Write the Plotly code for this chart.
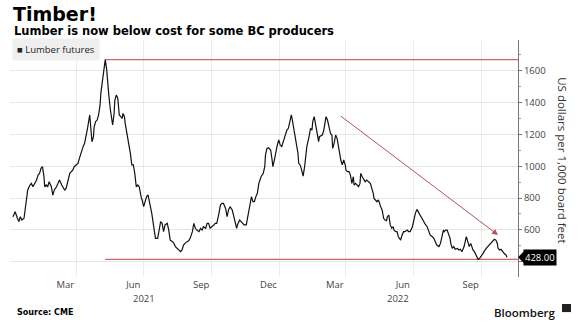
import pandas as pd
import plotly.graph_objects as go

# ---- data ----
start_date = "2021-01-01"
# day offsets from start_date, lumber futures price (USD per 1,000 board feet)
days = [4, 7, 10, 12, 14, 16, 19, 21, 24, 27, 29, 31, 34, 36, 38, 40, 42, 44, 46, 47, 49, 51, 53, 56, 58, 60,
        63, 65, 67, 70, 72, 74, 76, 79, 81, 83, 85, 87, 90, 92, 94, 96, 99, 101, 103, 105, 108, 109, 111, 113,
        114, 116, 118, 120, 122, 123, 125, 127, 129, 131, 132, 134, 136, 138, 139, 141, 142, 144, 146, 147, 148,
        150, 152, 153, 155, 156, 158, 160, 161, 163, 165, 167, 169, 170,
        171, 173, 175, 178, 179, 181, 183, 185, 187, 188, 190, 192, 194, 196, 197, 200, 202, 204, 206, 208, 210,
        213, 215, 217, 220, 222, 224, 226, 229, 231, 233, 235, 238, 240, 242, 244, 247, 249, 251, 253, 256, 258,
        260, 262, 265, 267, 269, 271, 274, 276, 278, 280, 283, 285, 287, 289, 292, 294, 296, 298, 301, 303, 305,
        307, 308, 311, 313, 315, 317, 320, 322, 324, 326, 327, 329, 331, 333, 335, 337, 338, 340, 343, 345,
        346, 348, 350, 353, 355, 356, 358, 360, 362, 364, 366, 368, 371, 373, 375, 377, 379, 381, 382, 384, 386,
        388, 390, 391, 393, 395, 397, 399, 400, 402, 405, 407, 409, 410, 412, 414, 416, 418, 419, 421, 423, 425,
        427, 428, 430, 432, 434, 436, 437, 439, 441, 443, 445, 446, 448, 450, 452, 454, 455, 457, 459, 461, 463,
        465, 466, 468, 470, 472, 474, 475, 477, 479, 481, 483, 484, 486, 488, 490, 492, 493, 495, 497, 499, 501,
        502, 504, 506, 508, 510, 511, 513, 515, 517, 519, 520, 522,
        524, 526, 529, 531, 533, 535, 538, 540, 542, 545, 547, 549, 551, 554, 556, 558, 560, 563, 565, 567, 569,
        572, 574, 576, 578, 581, 583, 585, 587, 588, 590, 592, 594, 596, 597, 599, 601, 603, 606, 608, 610, 612,
        615, 617, 618, 620, 622, 624, 625, 627, 629, 631, 633, 634, 636, 638, 640, 642, 643, 645, 647, 649, 651,
        652, 654, 656, 658, 660, 661, 663, 665, 667, 669, 670, 672, 673]
prices = [683, 714, 673, 652, 683, 662, 673, 746, 851, 882, 892, 871, 892, 913, 945, 955, 987, 997, 934, 871, 882,
          871, 903, 871, 819, 851, 871, 892, 913, 882, 861, 851, 861, 924, 955, 966, 976, 997, 1008, 1018, 1049,
          1081, 1123, 1144, 1186, 1238, 1322, 1248, 1154, 1186, 1248, 1280, 1290, 1322, 1385, 1458, 1531, 1604,
          1670, 1604, 1521, 1437, 1353, 1280, 1259, 1332, 1416, 1447, 1426, 1374, 1322, 1311, 1301, 1332, 1311,
          1269, 1217, 1175, 1133, 1081, 1008, 1008, 955, 871,
          871, 882, 871, 798, 788, 746, 788, 809, 819, 798, 756, 704, 641, 589, 547, 547, 599, 652, 641, 589, 631,
          641, 599, 536, 526, 515, 495, 484, 474, 463, 474, 505, 520, 526, 532, 547, 589, 641, 610, 599, 589, 610,
          599, 620, 610, 641, 641, 610, 620, 631, 641, 641, 704, 756, 767, 767, 735, 683, 725, 746, 725, 683, 641,
          610, 631, 662, 652, 641, 631, 631, 683, 735, 798, 809, 777, 777, 809, 830, 892, 913, 934, 955, 997,
          1070, 1112, 1116, 1102, 1039, 997, 1039, 1102, 1133, 1165, 1133, 1123, 1165, 1207, 1227, 1238, 1280,
          1322, 1301, 1248, 1196, 1144, 1081, 1018, 1008, 976, 938, 997, 1060, 1123, 1186, 1238, 1227, 1280, 1311,
          1259, 1186, 1154, 1186, 1190, 1196, 1227, 1290, 1311, 1290, 1238, 1207, 1196, 1112, 1144, 1196, 1175,
          1123, 1081, 1039, 1008, 1039, 1008, 976, 966, 966, 945, 892, 934, 882, 892, 882, 871, 892, 955, 934,
          913, 903, 913, 909, 903, 892, 861, 830, 798, 788, 777, 788, 756, 746, 725, 673, 662, 658, 683, 693, 631,
          610, 620, 599, 590,
          589, 557, 536, 568, 589, 589, 599, 589, 589, 620, 673, 704, 729, 704, 683, 673, 652, 631, 620, 589, 568,
          557, 547, 526, 505, 495, 515, 557, 599, 589, 599, 599, 578, 547, 515, 484, 495, 478, 484, 474, 478, 463,
          495, 526, 557, 526, 495, 515, 495, 474, 463, 442, 421, 415, 421, 432, 448, 463, 474, 484, 495, 505, 515,
          526, 532, 541, 536, 515, 484, 474, 478, 463, 453, 448, 442, 428]

series_name = "Lumber futures"
last_value = 428.00
peak_level = 1670     # upper red reference line
floor_level = 415     # lower red reference line
peak_day = 129
trend_start = ("2022-03-23", 1322)
trend_end = ("2022-10-24", 568)

x_range = ["2021-01-01", "2022-11-20"]
y_range = [304, 1793]
grid_dates = ["2021-04-01", "2021-07-01", "2021-10-01", "2022-01-01", "2022-04-01", "2022-07-01", "2022-10-01"]
month_dates = ["2021-03-17", "2021-06-17", "2021-09-17", "2021-12-17", "2022-03-17", "2022-06-17", "2022-09-17"]
month_labels = ["Mar", "Jun", "Sep", "Dec", "Mar", "Jun", "Sep"]
year_dates = ["2021-07-02", "2022-06-11"]
year_labels = ["2021", "2022"]
y_ticks = [400, 600, 800, 1000, 1200, 1400, 1600]

title = "Timber!"
subtitle = "Lumber is now below cost for some BC producers"
y_title = "US dollars per 1,000 board feet"
source = "Source: CME"

# ---- build ----
t0 = pd.Timestamp(start_date)
dates = [t0 + pd.Timedelta(days=d) for d in days]
peak_date = t0 + pd.Timedelta(days=peak_day)

fig = go.Figure()

ref_color = "#d0646c"
fig.add_trace(go.Scatter(x=[peak_date, pd.Timestamp(x_range[1])], y=[peak_level, peak_level],
                         mode="lines", line=dict(color=ref_color, width=1.4), hoverinfo="skip",
                         showlegend=False))
fig.add_trace(go.Scatter(x=[peak_date, pd.Timestamp(x_range[1])], y=[floor_level, floor_level],
                         mode="lines", line=dict(color=ref_color, width=1.4), hoverinfo="skip",
                         showlegend=False))
fig.add_trace(go.Scatter(x=dates, y=prices, mode="lines", name=series_name,
                         line=dict(color="#111111", width=1.2), showlegend=False))

axis_font = dict(family="Open Sans, Liberation Sans, sans-serif", size=9.5, color="#444444")

fig.update_layout(
    width=580, height=329,
    margin=dict(l=10, r=62, t=40, b=52),
    paper_bgcolor="white", plot_bgcolor="white",
    showlegend=False,
    xaxis=dict(
        type="date", range=x_range,
        tickmode="array", tickvals=month_dates, ticktext=month_labels,
        showgrid=False, zeroline=False, showline=False, ticks="",
        tickfont=axis_font,
        minor=dict(tickmode="array", tickvals=grid_dates, showgrid=True,
                   gridcolor="#ececec", gridwidth=1, ticks=""),
    ),
    yaxis=dict(
        side="right", range=y_range,
        tickmode="array", tickvals=y_ticks,
        showgrid=True, gridcolor="#e6e6e6", gridwidth=1, zeroline=False,
        showline=True, linecolor="#777777", linewidth=1,
        ticks="outside", ticklen=3, tickcolor="#777777",
        tickfont=axis_font,
        minor=dict(dtick=100, tick0=0, ticks="outside", ticklen=2, tickcolor="#999999", showgrid=False),
    ),
)

annotations = [
    dict(text=title, xref="paper", yref="paper", x=0.002, y=1.108, xanchor="left", yanchor="middle",
         showarrow=False, font=dict(family="DejaVu Sans", size=19, color="#000000", weight="bold")),
    dict(text=subtitle, xref="paper", yref="paper", x=0.003, y=1.040, xanchor="left", yanchor="middle",
         showarrow=False, font=dict(family="DejaVu Sans", size=11.5, color="#000000", weight="bold")),
    dict(text="■ " + series_name, xref="paper", yref="paper", x=0.003, y=0.958, xanchor="left",
         yanchor="middle", showarrow=False, bgcolor="#efefef", borderpad=4,
         font=dict(family="Open Sans, Liberation Sans, sans-serif", size=9.5, color="#222222")),
    dict(text=y_title, xref="paper", yref="paper", x=1.086, y=0.494, xanchor="center", yanchor="middle",
         textangle=90, showarrow=False,
         font=dict(family="Open Sans, Liberation Sans, sans-serif", size=11.5, color="#333333")),
    dict(text=f"{last_value:.2f}", xref="paper", yref="y", x=1, y=last_value, xanchor="left",
         yanchor="middle", xshift=5, showarrow=False, bgcolor="#000000", borderpad=1,
         font=dict(family="Open Sans, Liberation Sans, sans-serif", size=9.5, color="#ffffff")),
    dict(text=source, xref="paper", yref="paper", x=0.009, y=-0.15, xanchor="left", yanchor="middle",
         showarrow=False, font=dict(family="DejaVu Sans", size=8, color="#000000", weight="bold")),
    dict(text="Bloomberg", xref="paper", yref="paper", x=1.079, y=-0.15, xanchor="right", yanchor="middle",
         showarrow=False, font=dict(family="Open Sans, Liberation Sans, sans-serif", size=11.5,
                                    color="#111111", weight=600)),
    # trend arrow
    dict(x=trend_end[0], y=trend_end[1], ax=trend_start[0], ay=trend_start[1], xref="x", yref="y",
         axref="x", ayref="y", text="", showarrow=True, arrowhead=2, arrowsize=1.2, arrowwidth=1,
         arrowcolor="#b0545f", standoff=0),
]
for d, lab in zip(year_dates, year_labels):
    annotations.append(dict(text=lab, xref="x", yref="paper", x=d, y=-0.09, xanchor="center",
                            yanchor="middle", showarrow=False, font=axis_font))
fig.update_layout(annotations=annotations)

# pointer of the last-value tag and the small logo box
fig.add_shape(type="path", xref="paper", yref="y", xsizemode="pixel", ysizemode="pixel",
              xanchor=1, yanchor=last_value, path="M0,0 L6,6 L6,-6 Z",
              fillcolor="#000000", line=dict(width=0))
fig.add_shape(type="rect", xref="paper", yref="paper", x0=1.0866, x1=1.1043, y0=-0.114, y1=-0.148,
              fillcolor="#222222", line=dict(width=0))

fig.write_html("out.html")
